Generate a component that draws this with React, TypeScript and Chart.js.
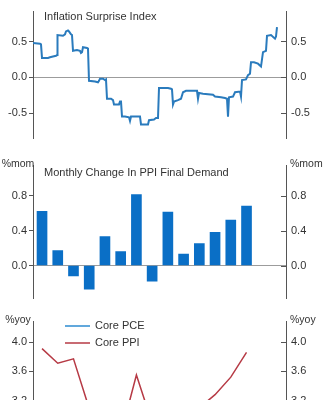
import React, { useEffect, useRef } from 'react';
import { Chart, registerables } from 'chart.js';
Chart.register(...registerables);

const FONT = "'Liberation Sans', Arial, Helvetica, sans-serif";

// ---- Panel 1: Inflation Surprise Index (trading-day index, index value)
const surpriseDays = [0, 7, 8, 9, 15, 17, 20, 23, 24, 24.5, 30, 32, 33, 35, 36, 37, 38, 39, 40, 44, 47, 48, 49, 50, 54, 55, 56, 62, 65, 66, 67, 70, 72, 73, 74, 78, 80, 81, 86, 87, 88, 89, 92, 96, 97, 98, 107, 108, 115, 116, 121, 123, 125, 126, 135, 138, 139, 140, 141, 145, 148, 150, 153, 164, 165, 166, 170, 180, 182, 188, 192, 194, 195, 196, 200, 202, 207, 208, 209, 213, 215, 217, 218, 221, 225, 228, 230, 233, 234, 238, 242, 243, 244];
const surpriseValues = [0.48, 0.47, 0.46, 0.27, 0.27, 0.28, 0.29, 0.30, 0.31, 0.59, 0.58, 0.60, 0.64, 0.655, 0.64, 0.62, 0.60, 0.59, 0.37, 0.38, 0.37, 0.34, 0.35, 0.42, 0.41, 0.40, -0.05, -0.06, -0.07, -0.05, -0.02, -0.02, -0.04, -0.03, -0.30, -0.30, -0.32, -0.38, -0.38, -0.34, -0.34, -0.55, -0.55, -0.56, -0.61, -0.55, -0.55, -0.66, -0.66, -0.60, -0.59, -0.57, -0.57, -0.15, -0.15, -0.16, -0.17, -0.38, -0.34, -0.32, -0.30, -0.21, -0.19, -0.19, -0.30, -0.22, -0.23, -0.245, -0.27, -0.28, -0.29, -0.30, -0.55, -0.28, -0.27, -0.21, -0.20, -0.27, -0.04, -0.03, 0.03, 0.05, 0.21, 0.21, 0.19, 0.15, 0.35, 0.37, 0.58, 0.59, 0.54, 0.57, 0.70];
const surpriseTicks = [-0.5, 0, 0.5];

// ---- Panel 2: Monthly change in PPI final demand (%mom)
const months = ['Jan', 'Feb', 'Mar', 'Apr', 'May', 'Jun', 'Jul', 'Aug', 'Sep', 'Oct', 'Nov', 'Dec', 'Jan', 'Feb'];
const ppiMoM = [0.62, 0.17, -0.12, -0.27, 0.33, 0.16, 0.81, -0.18, 0.61, 0.13, 0.25, 0.38, 0.52, 0.68];
const momTicks = [0, 0.4, 0.8];

// ---- Panel 3: Core PCE vs Core PPI (%yoy)
const corePCE = [2.9, 2.8, 2.9, 2.8, 2.7, 2.6, 2.7, 2.7, 2.8, 2.8, 2.9, 2.8, 2.7, 2.6];
const corePPI = [3.91, 3.71, 3.77, 3.09, 2.9, 2.73, 3.55, 2.89, 2.9, 3.0, 3.1, 3.28, 3.52, 3.86];
const yoyTicks = [2.4, 2.8, 3.2, 3.6, 4.0];
const seriesNames = ['Core PCE', 'Core PPI'];

const BLUE_LINE = '#2a7bbd';
const BAR_BLUE = '#0a6fc6';
const PCE_BLUE = '#2d8bd0';
const PPI_RED = '#b63a45';
const AXIS = '#555555';
const TEXT = '#333333';

function yAxes(min: number, max: number, ticks: number[]) {
  const tickFont = { family: FONT, size: 11 };
  const build = (s: any) => { s.ticks = ticks.map((v) => ({ value: v })); };
  return {
    y: {
      type: 'linear', position: 'left', min, max,
      afterBuildTicks: build,
      afterFit: (s: any) => { s.width = 33; },
      ticks: { font: tickFont, color: TEXT, padding: 2, callback: (v: any) => Number(v).toFixed(1) },
      grid: {
        drawOnChartArea: true, drawTicks: true, tickLength: 4, tickColor: AXIS, lineWidth: 1,
        color: (c: any) => (c.tick && c.tick.value === 0 ? '#9c9c9c' : 'rgba(0,0,0,0)'),
      },
      border: { display: true, color: AXIS, width: 1 },
    },
    y2: {
      type: 'linear', position: 'right', min, max,
      afterBuildTicks: build,
      afterFit: (s: any) => { s.width = 38; },
      ticks: { font: tickFont, color: TEXT, padding: 5, callback: (v: any) => Number(v).toFixed(1) },
      grid: { display: false, drawTicks: false },
      border: { display: true, color: AXIS, width: 1 },
    },
  };
}

const innerTicks = {
  id: 'innerTicks',
  afterDraw(chart: any) {
    const s = chart.scales.y2;
    if (!s) return;
    const ctx = chart.ctx;
    ctx.save();
    ctx.strokeStyle = AXIS;
    ctx.lineWidth = 1;
    s.ticks.forEach((t: any) => {
      const y = Math.round(s.getPixelForValue(t.value)) + 0.5;
      ctx.beginPath();
      ctx.moveTo(chart.chartArea.right - 5, y);
      ctx.lineTo(chart.chartArea.right, y);
      ctx.stroke();
    });
    ctx.restore();
  },
};

function textPlugin(id: string, items: { text: string; x: number; y: number; align: CanvasTextAlign; size: number }[], legend?: boolean) {
  return {
    id,
    afterDraw(chart: any) {
      const ctx = chart.ctx;
      ctx.save();
      ctx.fillStyle = TEXT;
      ctx.textBaseline = 'middle';
      items.forEach((it) => {
        ctx.font = `${it.size}px ${FONT}`;
        ctx.textAlign = it.align;
        ctx.fillText(it.text, it.x, it.y);
      });
      if (legend) {
        const colors = [PCE_BLUE, PPI_RED];
        seriesNames.forEach((name, i) => {
          const y = 16 + i * 17;
          ctx.strokeStyle = colors[i];
          ctx.lineWidth = 1.5;
          ctx.beginPath();
          ctx.moveTo(65, y);
          ctx.lineTo(90, y);
          ctx.stroke();
          ctx.font = `11px ${FONT}`;
          ctx.textAlign = 'left';
          ctx.fillStyle = TEXT;
          ctx.fillText(name, 95, y);
        });
      }
      ctx.restore();
    },
  };
}

const baseOptions = (top: number, bottom: number) => ({
  responsive: false,
  animation: false as const,
  events: [] as any[],
  layout: { padding: { top, bottom, left: 0, right: 0 } },
  plugins: { legend: { display: false }, tooltip: { enabled: false }, title: { display: false } },
});

export default function App() {
  const c1 = useRef<HTMLCanvasElement>(null);
  const c2 = useRef<HTMLCanvasElement>(null);
  const c3 = useRef<HTMLCanvasElement>(null);

  useEffect(() => {
    Chart.defaults.font.family = FONT;
    const monthMin = -0.574;
    const monthMax = 15.51;

    const ch1 = new Chart(c1.current as HTMLCanvasElement, {
      type: 'line',
      data: {
        datasets: [{
          data: surpriseDays.map((d, i) => ({ x: d, y: surpriseValues[i] })),
          borderColor: BLUE_LINE, borderWidth: 2, pointRadius: 0, tension: 0, yAxisID: 'y',
        }],
      },
      options: {
        ...baseOptions(5, 4),
        scales: {
          x: { type: 'linear', display: false, min: 0, max: 253, offset: false },
          ...yAxes(-0.855, 0.918, surpriseTicks),
        },
      } as any,
      plugins: [innerTicks, textPlugin('t1', [{ text: 'Inflation Surprise Index', x: 44, y: 17, align: 'left', size: 11 }])],
    });

    const ch2 = new Chart(c2.current as HTMLCanvasElement, {
      type: 'bar',
      data: {
        labels: months,
        datasets: [{
          data: ppiMoM.map((v, i) => ({ x: i, y: v })),
          backgroundColor: BAR_BLUE, borderWidth: 0, barThickness: 10, yAxisID: 'y',
        }],
      },
      options: {
        ...baseOptions(15, 7),
        scales: {
          x: { type: 'linear', display: false, min: monthMin, max: monthMax, offset: false },
          ...yAxes(-0.376, 1.149, momTicks),
        },
      } as any,
      plugins: [innerTicks, textPlugin('t2', [
        { text: 'Monthly Change In PPI Final Demand', x: 44, y: 22.5, align: 'left', size: 11 },
        { text: '%mom', x: 18, y: 14, align: 'center', size: 10.5 },
        { text: '%mom', x: 290, y: 14, align: 'left', size: 10.5 },
      ])],
    });

    const ch3 = new Chart(c3.current as HTMLCanvasElement, {
      type: 'line',
      data: {
        labels: months,
        datasets: [
          { label: seriesNames[0], data: corePCE.map((v, i) => ({ x: i, y: v })), borderColor: PCE_BLUE, borderWidth: 1.5, pointRadius: 0, tension: 0, yAxisID: 'y' },
          { label: seriesNames[1], data: corePPI.map((v, i) => ({ x: i, y: v })), borderColor: PPI_RED, borderWidth: 1.5, pointRadius: 0, tension: 0, yAxisID: 'y' },
        ],
      },
      options: {
        ...baseOptions(8, 21),
        scales: {
          x: { type: 'linear', display: false, min: monthMin, max: monthMax, offset: false },
          ...yAxes(2.4, 4.28, yoyTicks),
        },
      } as any,
      plugins: [innerTicks, textPlugin('t3', [
        { text: '%yoy', x: 18, y: 10, align: 'center', size: 10.5 },
        { text: '%yoy', x: 290, y: 10, align: 'left', size: 10.5 },
      ], true)],
    });

    return () => { ch1.destroy(); ch2.destroy(); ch3.destroy(); };
  }, []);

  const box: React.CSSProperties = { position: 'absolute', left: 0, width: 324, display: 'block' };
  return (
    <div style={{ position: 'absolute', left: 0, top: 0, width: 324, height: 400, overflow: 'hidden', background: '#fff' }}>
      <canvas ref={c1} width={324} height={150} style={{ ...box, top: 0, height: 150 }} />
      <canvas ref={c2} width={324} height={160} style={{ ...box, top: 150, height: 160 }} />
      <canvas ref={c3} width={324} height={170} style={{ ...box, top: 310, height: 170 }} />
    </div>
  );
}
